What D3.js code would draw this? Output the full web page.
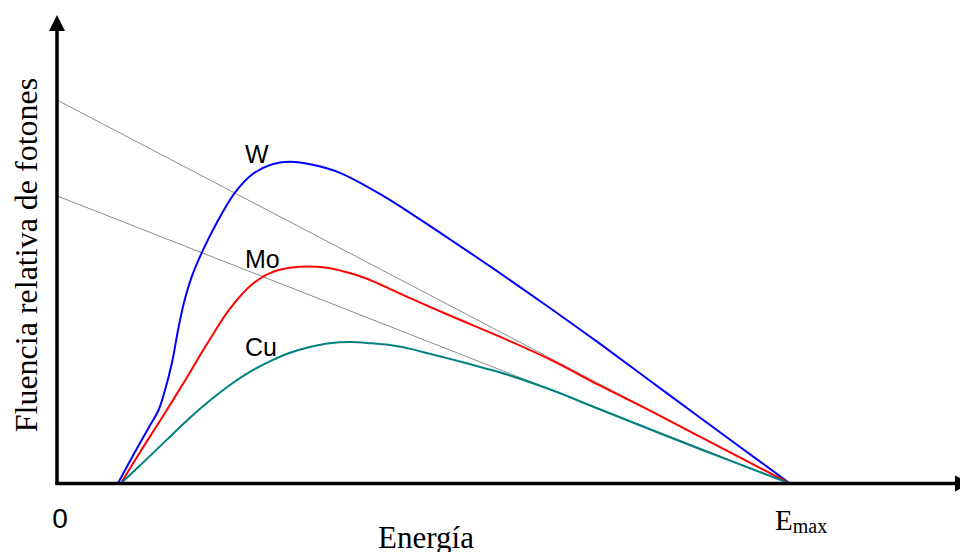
<!DOCTYPE html>
<html>
<head>
<meta charset="utf-8">
<script src="https://cdn.jsdelivr.net/npm/d3@7"></script>
<style>
  html, body { margin: 0; padding: 0; background: #fff; }
  svg { display: block; }
</style>
</head>
<body>
<svg id="chart" width="960" height="552"></svg>
<script>
// Relative photon fluence vs energy (energy as % of Emax, fluence in relative units)
const seriesNames = ["W", "Mo", "Cu"];
const seriesColors = ["#0000ff", "#ff0000", "#008080"];

const wSpectrum = [
  [8.3, 0], [10.6, 8.1], [12.7, 15.2], [13.8, 18.9], [14.7, 24.1], [15.7, 31.6],
  [16.5, 39.9], [17.3, 47.0], [18.4, 54.0], [19.8, 60.4], [21.8, 68.0],
  [24.3, 75.9], [26.7, 80.7], [29.5, 83.3], [31.8, 83.9], [34.9, 83.1], [38.6, 81.0],
  [44.5, 75.0], [49.1, 69.4], [53.6, 63.7], [58.1, 57.9], [62.2, 52.5], [67.3, 45.7],
  [74.1, 36.4], [80.9, 26.8], [87.7, 17.2], [100, 0]
];
const moSpectrum = [
  [8.7, 0], [11.3, 8.1], [14.6, 18.0], [17.2, 26.0], [20.5, 36.5], [23.6, 45.6],
  [26.7, 52.1], [29.5, 55.2], [33.1, 56.5], [36.6, 56.3], [39.3, 55.2], [42.3, 53.4],
  [46.8, 49.5], [53.6, 43.8], [60.4, 38.3], [67.3, 32.3], [74.1, 25.5], [80.9, 19.0],
  [87.7, 12.2], [100, 0]
];
const cuSpectrum = [
  [8.7, 0], [12.7, 7.2], [18.1, 17.1], [20.9, 21.7], [23.6, 25.7], [26.3, 29.1],
  [29.1, 31.9], [31.8, 34.1], [34.5, 35.6], [37.2, 36.6], [40.0, 36.9], [42.7, 36.6],
  [45.4, 36.1], [48.2, 35.1], [50.9, 33.8], [53.6, 32.5], [58.1, 30.2], [60.4, 29.0],
  [67.3, 24.5], [74.1, 19.3], [87.7, 9.0], [100, 0]
];
// Unfiltered (thin) spectra: straight lines from the fluence axis to Emax
const referenceLines = [
  [[0, 100], [100, 0]],
  [[0, 75], [100, 0]]
];
const xTickLabels = ["0", "E"];
const xTickValues = [0, 100];
const xTitle = "Energía";
const yTitle = "Fluencia relativa de fotones";

const svg = d3.select("#chart");
const x = d3.scaleLinear().domain([0, 100]).range([57, 790]);
const y = d3.scaleLinear().domain([0, 100]).range([483.5, 100]);
const xEnd = 956, yTop = 30;

const line = d3.line().x(d => x(d[0])).y(d => y(d[1])).curve(d3.curveCatmullRom.alpha(0.5));

// thin reference lines
svg.append("g").selectAll("path").data(referenceLines).join("path")
  .attr("d", d3.line().x(d => x(d[0])).y(d => y(d[1])))
  .attr("fill", "none").attr("stroke", "#6e6e6e").attr("stroke-width", 0.8);

// spectra
const spectra = [wSpectrum, moSpectrum, cuSpectrum];
svg.append("g").selectAll("path").data(spectra).join("path")
  .attr("d", line)
  .attr("fill", "none")
  .attr("stroke", (d, i) => seriesColors[i])
  .attr("stroke-width", 2);

// axes with arrowheads
const axes = svg.append("g");
axes.append("line").attr("x1", x(0)).attr("y1", y(0)).attr("x2", x(0)).attr("y2", yTop)
  .attr("stroke", "#000").attr("stroke-width", 3.5);
axes.append("line").attr("x1", x(0) - 1.75).attr("y1", y(0)).attr("x2", xEnd).attr("y2", y(0))
  .attr("stroke", "#000").attr("stroke-width", 3.5);
axes.append("path")
  .attr("d", `M${x(0)},15 L${x(0) - 8},31 L${x(0) + 8},31 Z`).attr("fill", "#000");
axes.append("path")
  .attr("d", `M${xEnd + 15},${y(0)} L${xEnd - 1},${y(0) - 8} L${xEnd - 1},${y(0) + 8} Z`).attr("fill", "#000");

// series labels
const labelPos = [[245, 163], [245, 268], [245, 356]];
svg.append("g").selectAll("text").data(seriesNames).join("text")
  .attr("x", (d, i) => labelPos[i][0]).attr("y", (d, i) => labelPos[i][1])
  .attr("font-family", "Liberation Sans, Arial, sans-serif")
  .attr("font-size", 25).attr("fill", "#000")
  .text(d => d);

// energy axis labels
svg.append("text").attr("x", x(xTickValues[0]) + 3).attr("y", 528)
  .attr("text-anchor", "middle")
  .attr("font-family", "Liberation Sans, Arial, sans-serif").attr("font-size", 28)
  .text(xTickLabels[0]);
const emax = svg.append("text").attr("x", x(xTickValues[1]) - 15).attr("y", 530)
  .attr("font-family", "Liberation Serif, Times New Roman, serif").attr("font-size", 29);
emax.append("tspan").text(xTickLabels[1]);
emax.append("tspan").attr("font-size", 20).attr("dy", 3).text("max");

// axis titles
svg.append("text").attr("x", 426).attr("y", 548).attr("text-anchor", "middle")
  .attr("font-family", "Liberation Serif, Times New Roman, serif").attr("font-size", 31)
  .text(xTitle);
svg.append("text").attr("transform", "translate(37,255) rotate(-90)")
  .attr("text-anchor", "middle")
  .attr("font-family", "Liberation Serif, Times New Roman, serif").attr("font-size", 32)
  .text(yTitle);
</script>
</body>
</html>
